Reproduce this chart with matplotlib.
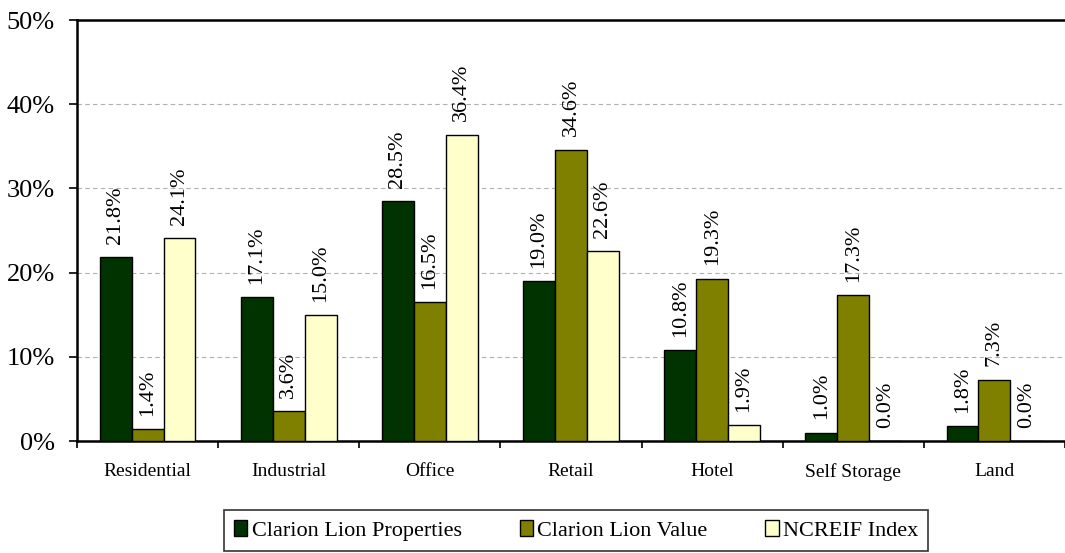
import matplotlib.pyplot as plt
import numpy as np

plt.rcParams['font.family'] = ['Liberation Serif', 'DejaVu Serif']

categories = ["Residential", "Industrial", "Office", "Retail", "Hotel", "Self Storage", "Land"]
series_names = ["Clarion Lion Properties", "Clarion Lion Value", "NCREIF Index"]
properties = [21.8, 17.1, 28.5, 19.0, 10.8, 1.0, 1.8]
value = [1.4, 3.6, 16.5, 34.6, 19.3, 17.3, 7.3]
ncreif = [24.1, 15.0, 36.4, 22.6, 1.9, 0.0, 0.0]
colors = ["#003300", "#808000", "#FFFFCC"]

fig = plt.figure(figsize=(10.65, 5.53), dpi=100)
ax = fig.add_axes([0.0723, 0.2025, 0.9277, 0.7613])

x = np.arange(len(categories))
w = 0.226
for i, (vals, col, name) in enumerate(zip([properties, value, ncreif], colors, series_names)):
    pos = x + (i - 1) * w
    ax.bar(pos, vals, width=w, color=col, edgecolor="black", linewidth=1.0,
           label=name, zorder=3)
    for xp, v in zip(pos, vals):
        ax.annotate(f"{v:.1f}%", (xp, v), xytext=(0, 9.5), textcoords="offset points",
                    rotation=90, ha="center", va="bottom", fontsize=16)

ax.set_xlim(-0.5, len(categories) - 0.5)
ax.set_ylim(0, 50)
ax.set_yticks(np.arange(0, 51, 10))
ax.set_yticklabels([f"{t}%" for t in range(0, 51, 10)], fontsize=19)
ax.yaxis.grid(True, linestyle=(0, (4, 3)), color="#b0b0b0", linewidth=0.8, zorder=0)

# categories centred, ticks at boundaries
ax.set_xticks(np.arange(-0.5, len(categories), 1.0))
ax.set_xticklabels([])
ax.set_xticks(x, minor=True)
ax.set_xticklabels(categories, minor=True, fontsize=14)
ax.tick_params(axis="x", which="minor", length=0, pad=16)
ax.tick_params(axis="x", which="major", length=5, width=1.2, direction="out")
ax.tick_params(axis="y", length=6, width=1.2, direction="out", pad=10)

for s in ["left", "bottom", "top"]:
    ax.spines[s].set_linewidth(1.8)
ax.spines["right"].set_visible(False)

leg = fig.legend(loc="lower center", bbox_to_anchor=(0.541, 0.0), ncol=3, fontsize=16,
                 frameon=True, fancybox=False, edgecolor="black", handlelength=0.6,
                 handleheight=0.7, columnspacing=2.6, handletextpad=0.2,
                 borderpad=0.45, borderaxespad=0.1)
leg.get_frame().set_linewidth(1.2)

fig.savefig("out.png", dpi=100)
